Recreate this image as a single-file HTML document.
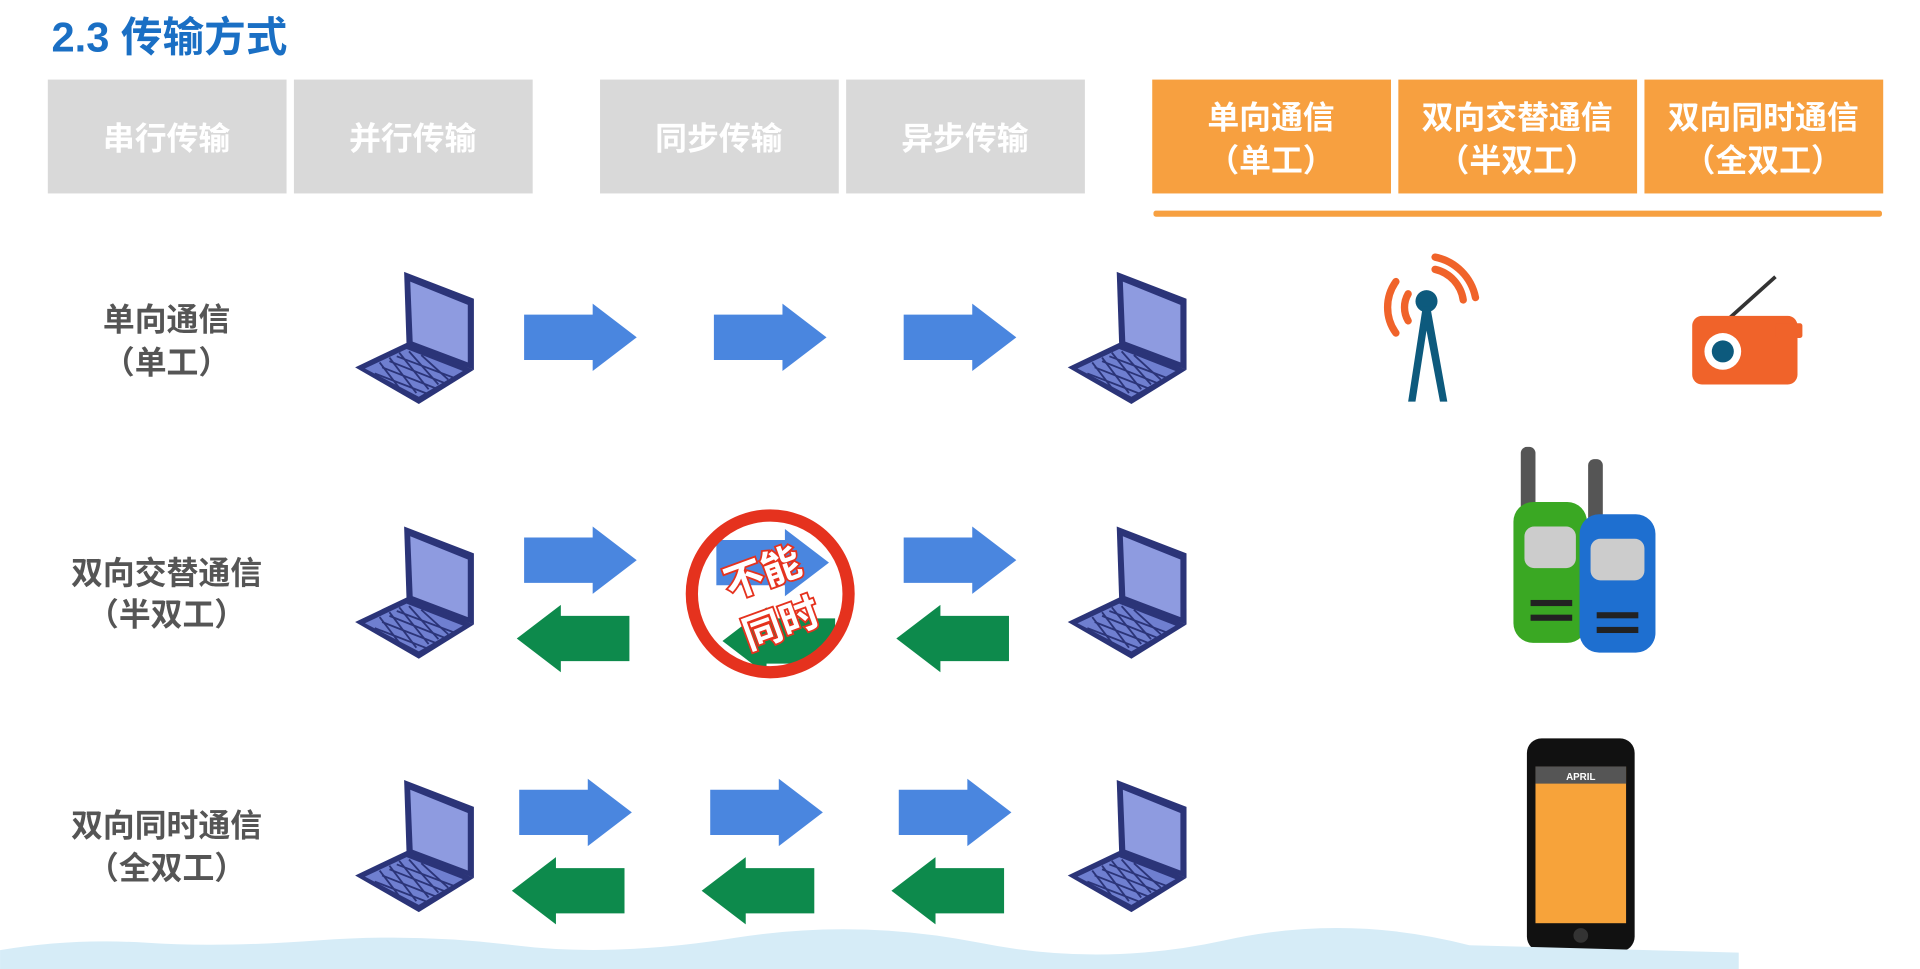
<!DOCTYPE html>
<html><head><meta charset="utf-8"><style>
html,body{margin:0;padding:0;background:#fff;width:1920px;height:969px;overflow:hidden}
svg{display:block}
text{font-family:"Liberation Sans","Noto Sans CJK SC",sans-serif;font-weight:bold}
</style></head><body>
<svg width="1920" height="969" viewBox="0 0 1568 791.4" xmlns="http://www.w3.org/2000/svg">
<defs>
<g id="lap">
<polygon points="40,0 97,22 97,80 42,60" fill="#2b3478"/>
<polygon points="45,8 92,27 92,74 47,57" fill="#8e9be0"/>
<polygon points="0,78 42,58 97,80 52,108" fill="#2b3478"/>
<polygon points="8,79 42,63 88,81 52,102" fill="#6f7fd0"/>
<g stroke="#2b3478" stroke-width="1.5">
<line x1="16" y1="83" x2="60" y2="100"/><line x1="22" y1="78" x2="68" y2="96"/><line x1="28" y1="73" x2="76" y2="92"/><line x1="34" y1="69" x2="82" y2="87"/>
<line x1="20" y1="74" x2="40" y2="100"/><line x1="28" y1="70" x2="50" y2="99"/><line x1="36" y1="66" x2="60" y2="96"/><line x1="44" y1="65" x2="68" y2="92"/><line x1="54" y1="68" x2="76" y2="88"/>
</g>
</g>
<g id="ba"><polygon points="0,9 56,9 56,0 92,27.5 56,55 56,46 0,46" fill="#4a86df"/></g>
<g id="ga"><polygon points="92,9 36,9 36,0 0,27.5 36,55 36,46 92,46" fill="#0d8a4c"/></g>
</defs>
<text x="42" y="42" font-size="34" fill="#1a6fc4">2.3 传输方式</text>
<g font-size="26" fill="#fff" text-anchor="middle">
<rect x="39" y="65" width="195" height="93" fill="#d9d9d9"/><text x="136" y="122">串行传输</text>
<rect x="240" y="65" width="195" height="93" fill="#d9d9d9"/><text x="337" y="122">并行传输</text>
<rect x="490" y="65" width="195" height="93" fill="#d9d9d9"/><text x="587" y="122">同步传输</text>
<rect x="691" y="65" width="195" height="93" fill="#d9d9d9"/><text x="788" y="122">异步传输</text>
<rect x="941" y="65" width="195" height="93" fill="#f7a040"/><text x="1038" y="105">单向通信</text><text x="1038" y="140">（单工）</text>
<rect x="1142" y="65" width="195" height="93" fill="#f7a040"/><text x="1239" y="105">双向交替通信</text><text x="1239" y="140">（半双工）</text>
<rect x="1343" y="65" width="195" height="93" fill="#f7a040"/><text x="1440" y="105">双向同时通信</text><text x="1440" y="140">（全双工）</text>
</g>
<rect x="942" y="172" width="595" height="5" rx="2" fill="#f7a040"/>
<g font-size="26" fill="#555" text-anchor="middle">
<text x="136" y="270">单向通信</text><text x="136" y="305">（单工）</text>
<text x="136" y="477">双向交替通信</text><text x="136" y="511">（半双工）</text>
<text x="136" y="683">双向同时通信</text><text x="136" y="718">（全双工）</text>
</g>
<use href="#lap" x="290" y="222"/><use href="#lap" x="872" y="222"/>
<use href="#lap" x="290" y="430"/><use href="#lap" x="872" y="430"/>
<use href="#lap" x="290" y="637"/><use href="#lap" x="872" y="637"/>
<use href="#ba" x="428" y="248"/><use href="#ba" x="583" y="248"/><use href="#ba" x="738" y="248"/>
<use href="#ba" x="428" y="430"/><use href="#ga" x="422" y="494"/>
<use href="#ba" x="738" y="430"/><use href="#ga" x="732" y="494"/>
<use href="#ba" x="424" y="636"/><use href="#ga" x="418" y="700"/>
<use href="#ba" x="580" y="636"/><use href="#ga" x="573" y="700"/>
<use href="#ba" x="734" y="636"/><use href="#ga" x="728" y="700"/>
<circle cx="629" cy="485" r="64" fill="#fff"/>
<clipPath id="cc"><circle cx="629" cy="485" r="64"/></clipPath>
<g clip-path="url(#cc)"><use href="#ba" x="585" y="432"/><use href="#ga" x="590" y="496"/></g>
<circle cx="629" cy="485" r="64" fill="none" stroke="#e5321e" stroke-width="10"/>
<g transform="rotate(-20 629 485)" font-size="32" fill="#fff" stroke="#e5321e" stroke-width="3" paint-order="stroke" text-anchor="middle">
<text x="629" y="478">不能</text><text x="629" y="522">同时</text></g>
<!-- tower -->
<g fill="none" stroke="#f0632a" stroke-width="6" stroke-linecap="round">
<path d="M1150,240 A22,22 0 0 0 1150,262"/><path d="M1140,230 A36,36 0 0 0 1140,272"/>
<path d="M1172,220 A30,30 0 0 1 1195,245"/><path d="M1172,210 A42,42 0 0 1 1205,243"/>
</g>
<circle cx="1165" cy="246" r="9" fill="#0d5a7d"/>
<polygon points="1162,250 1168,250 1182,328 1176,328 1165,270 1156,328 1150,328" fill="#0d5a7d"/>
<!-- radio -->
<line x1="1410" y1="262" x2="1450" y2="226" stroke="#333" stroke-width="3"/>
<rect x="1382" y="258" width="86" height="56" rx="8" fill="#f0632a"/>
<rect x="1450" y="264" width="22" height="12" rx="2" fill="#f0632a"/>
<circle cx="1407" cy="287" r="15" fill="#fff"/><circle cx="1407" cy="287" r="9" fill="#0d5a7d"/>
<!-- walkie talkies -->
<rect x="1242" y="365" width="12" height="60" rx="5" fill="#555"/>
<rect x="1236" y="410" width="60" height="115" rx="16" fill="#3aa823"/>
<rect x="1245" y="430" width="42" height="34" rx="8" fill="#ccc"/>
<rect x="1250" y="490" width="34" height="5" fill="#222"/><rect x="1250" y="502" width="34" height="5" fill="#222"/>
<rect x="1297" y="375" width="12" height="60" rx="5" fill="#555"/>
<rect x="1290" y="420" width="62" height="113" rx="16" fill="#1e6fd0"/>
<rect x="1299" y="440" width="44" height="34" rx="8" fill="#ccc"/>
<rect x="1304" y="500" width="34" height="5" fill="#222"/><rect x="1304" y="512" width="34" height="5" fill="#222"/>
<!-- phone -->
<rect x="1247" y="603" width="88" height="174" rx="12" fill="#111"/>
<rect x="1254" y="626" width="74" height="128" fill="#f7a33a"/>
<rect x="1254" y="626" width="74" height="14" fill="#555"/>
<text x="1291" y="637" font-size="8" fill="#fff" text-anchor="middle">APRIL</text>
<circle cx="1291" cy="764" r="6" fill="#333"/>
<!-- bottom wave -->
<path d="M0,776 Q60,766 120,770 T260,768 T420,772 T600,766 T800,770 T1000,768 T1200,772 L1420,778 L1420,791.4 L0,791.4 Z" fill="#d6ecf7"/>
</svg>
</body></html>
